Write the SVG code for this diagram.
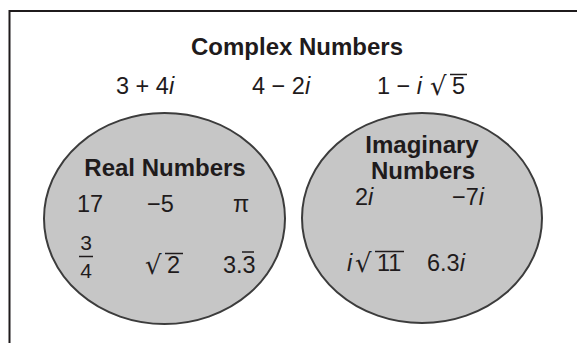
<svg xmlns="http://www.w3.org/2000/svg" width="577" height="343" viewBox="0 0 577 343">
<style>
  text { font-family: "Liberation Sans", Arial, sans-serif; fill: #1f1b1c; }
  .title { font-weight: bold; font-size: 24px; text-anchor: middle; }
  .num { font-size: 23.5px; }
  .frac { font-size: 21px; text-anchor: middle; }
  .it { font-style: italic; }
  .rad { font-family: "DejaVu Sans", sans-serif; font-size: 26px; }
  .set { fill: #c6c6c6; stroke: #3c3c3c; stroke-width: 2; }
  .bar { stroke: #1f1b1c; stroke-width: 1.5; }
</style>
<rect width="577" height="343" fill="#ffffff"/>
<path d="M9.5,343 V11 H577" fill="none" stroke="#1f1b1c" stroke-width="2"/>

<g id="complex">
  <text class="title" x="297" y="55">Complex Numbers</text>
  <text class="num" x="116" y="94">3 + 4<tspan class="it">i</tspan></text>
  <text class="num" x="252" y="94">4 − 2<tspan class="it">i</tspan></text>
  <text class="num" x="377" y="94">1 − <tspan class="it">i</tspan></text>
  <text class="rad" x="430" y="95">√</text>
  <text class="num" x="452" y="94">5</text>
  <line class="bar" x1="450" y1="74.5" x2="467" y2="74.5"/>
</g>

<g id="real">
  <ellipse class="set" cx="164.5" cy="218.5" rx="120.5" ry="105.5"/>
  <text class="title" x="165" y="176">Real Numbers</text>
  <text class="num" x="77" y="212">17</text>
  <text class="num" x="147" y="212">−5</text>
  <text class="num" x="233" y="212">π</text>
  <text class="frac" x="86" y="250">3</text>
  <line class="bar" x1="79" y1="256.5" x2="93" y2="256.5"/>
  <text class="frac" x="86" y="278">4</text>
  <text class="rad" x="145" y="274">√</text>
  <text class="num" x="167" y="273">2</text>
  <line class="bar" x1="165" y1="253.5" x2="183" y2="253.5"/>
  <text class="num" x="223" y="273">3.3</text>
  <line class="bar" x1="242" y1="252" x2="254" y2="252"/>
</g>

<g id="imaginary">
  <ellipse class="set" cx="422" cy="218" rx="120" ry="105"/>
  <text class="title" x="422" y="153">Imaginary</text>
  <text class="title" x="423" y="179">Numbers</text>
  <text class="num" x="355" y="205">2<tspan class="it">i</tspan></text>
  <text class="num" x="452" y="205">−7<tspan class="it">i</tspan></text>
  <text class="num it" x="347" y="271">i</text>
  <text class="rad" x="355" y="272">√</text>
  <text class="num" x="377" y="271">11</text>
  <line class="bar" x1="375" y1="251.5" x2="404" y2="251.5"/>
  <text class="num" x="427" y="271">6.3<tspan class="it">i</tspan></text>
</g>

<g id="connectors"></g>
</svg>
